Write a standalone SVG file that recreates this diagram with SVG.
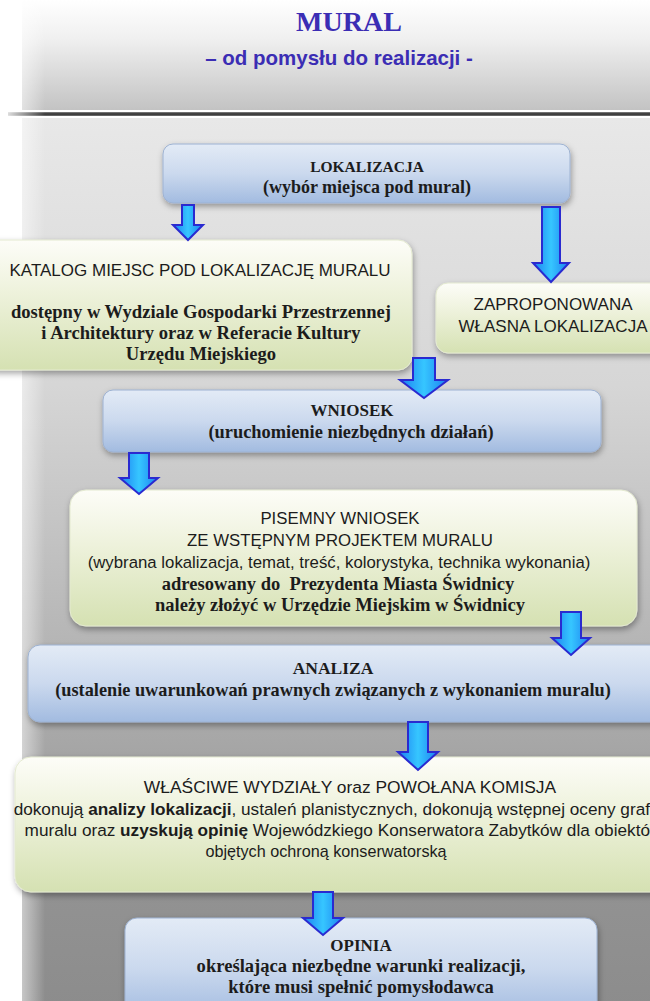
<svg xmlns="http://www.w3.org/2000/svg" width="650" height="1001" viewBox="0 0 650 1001">
<defs>
<linearGradient id="hdr" x1="0" y1="0" x2="0" y2="1">
<stop offset="0" stop-color="#ffffff"/><stop offset="0.35" stop-color="#f0f0f0"/><stop offset="1" stop-color="#c3c3c3"/>
</linearGradient>
<linearGradient id="body" x1="0" y1="0" x2="0" y2="1">
<stop offset="0" stop-color="#e8e8e8"/><stop offset="0.3" stop-color="#d6d6d6"/><stop offset="0.6" stop-color="#b4b4b4"/><stop offset="0.85" stop-color="#939393"/><stop offset="1" stop-color="#8c8c8c"/>
</linearGradient>
<linearGradient id="fadeL" x1="0" y1="0" x2="1" y2="0">
<stop offset="0" stop-color="#ffffff" stop-opacity="1"/><stop offset="1" stop-color="#ffffff" stop-opacity="0"/>
</linearGradient>
<linearGradient id="line" x1="0" y1="0" x2="0" y2="1">
<stop offset="0" stop-color="#888"/><stop offset="0.5" stop-color="#2a2a2a"/><stop offset="1" stop-color="#777"/>
</linearGradient>
<linearGradient id="blue" x1="0" y1="0" x2="0" y2="1">
<stop offset="0" stop-color="#e3ebf6"/><stop offset="0.5" stop-color="#cbd9ee"/><stop offset="1" stop-color="#a2bbe0"/>
</linearGradient>
<linearGradient id="green" x1="0" y1="0" x2="0" y2="1">
<stop offset="0" stop-color="#fdfdf8"/><stop offset="0.4" stop-color="#eef2dc"/><stop offset="1" stop-color="#d5e1b2"/>
</linearGradient>
<linearGradient id="arr" x1="0" y1="0" x2="1" y2="0">
<stop offset="0" stop-color="#1c7ff0"/><stop offset="0.5" stop-color="#36c6ff"/><stop offset="1" stop-color="#1c7ff0"/>
</linearGradient>
<filter id="sh" x="-10%" y="-20%" width="120%" height="150%">
<feDropShadow dx="1" dy="3" stdDeviation="3" flood-color="#000" flood-opacity="0.35"/>
</filter>
<style>
.bb{fill:url(#blue);stroke:#9db2d2;stroke-width:1;filter:url(#sh)}
.gb{fill:url(#green);stroke:#e4ead0;stroke-width:1;filter:url(#sh)}
.t{font-family:"Liberation Serif","DejaVu Serif",serif;font-weight:bold;fill:#1c1c1c;text-anchor:middle}
.r{font-family:"Liberation Sans","DejaVu Sans",sans-serif;fill:#1c1c1c;text-anchor:middle}
.ar{fill:url(#arr);stroke:#2a2ad0;stroke-width:2;stroke-linejoin:miter}
</style>
</defs>

<rect width="650" height="1001" fill="#ffffff"/>
<g id="background">
<rect x="22" y="0" width="640" height="110" fill="url(#hdr)"/>
<rect x="22" y="118" width="640" height="890" fill="url(#body)"/>
<rect x="8" y="112" width="650" height="4" fill="url(#line)"/>
<rect x="0" y="0" width="45" height="1001" fill="url(#fadeL)"/>
</g>

<g id="title">
<text x="349" y="31" font-family="Liberation Serif, serif" font-weight="bold" font-size="28" fill="#3b2db4" text-anchor="middle">MURAL</text>
<text x="339" y="65" font-family="Liberation Sans, sans-serif" font-weight="bold" font-size="20.5" fill="#3b2db4" text-anchor="middle">– od pomysłu do realizacji -</text>
</g>

<g id="lokalizacja">
<rect class="bb" x="163" y="144" width="407" height="59" rx="10"/>
<text class="t" x="367" y="172" font-size="15.5">LOKALIZACJA</text>
<text class="t" x="367" y="193" font-size="18">(wybór miejsca pod mural)</text>
</g>

<g id="katalog">
<rect class="gb" x="-20" y="240" width="432" height="130" rx="14"/>
<text class="r" x="200" y="276" font-size="17">KATALOG MIEJSC POD LOKALIZACJĘ MURALU</text>
<text class="t" x="201" y="318" font-size="18.6">dostępny w Wydziale Gospodarki Przestrzennej</text>
<text class="t" x="201" y="339" font-size="18.6">i Architektury oraz w Referacie Kultury</text>
<text class="t" x="201" y="360" font-size="18.6">Urzędu Miejskiego</text>
</g>

<g id="zaproponowana">
<rect class="gb" x="436" y="283" width="240" height="70" rx="12"/>
<text class="r" x="553" y="310" font-size="17">ZAPROPONOWANA</text>
<text class="r" x="553" y="332" font-size="17">WŁASNA LOKALIZACJA</text>
</g>

<g id="wniosek">
<rect class="bb" x="103" y="390" width="498" height="62" rx="10"/>
<text class="t" x="352" y="416" font-size="17">WNIOSEK</text>
<text class="t" x="351" y="438" font-size="18.4">(uruchomienie niezbędnych działań)</text>
</g>

<g id="pisemny">
<rect class="gb" x="70" y="490" width="567" height="136" rx="16"/>
<text class="r" x="340" y="524" font-size="16.8">PISEMNY WNIOSEK</text>
<text class="r" x="340" y="546" font-size="16.8">ZE WSTĘPNYM PROJEKTEM MURALU</text>
<text class="r" x="339" y="568" font-size="16.8">(wybrana lokalizacja, temat, treść, kolorystyka, technika wykonania)</text>
<text class="t" x="338" y="590" font-size="18.5" style="white-space:pre">adresowany do  Prezydenta Miasta Świdnicy</text>
<text class="t" x="340" y="611" font-size="18.5">należy złożyć w Urzędzie Miejskim w Świdnicy</text>
</g>

<g id="analiza">
<rect class="bb" x="28" y="645" width="640" height="77" rx="12"/>
<text class="t" x="333" y="674" font-size="17.5">ANALIZA</text>
<text class="t" x="333" y="696" font-size="18.3">(ustalenie uwarunkowań prawnych związanych z wykonaniem muralu)</text>
</g>

<g id="wlasciwe">
<rect class="gb" x="15" y="757" width="660" height="135" rx="16"/>
<text class="r" x="350" y="793" font-size="17.4">WŁAŚCIWE WYDZIAŁY oraz POWOŁANA KOMISJA</text>
<text class="r" x="650" y="815" font-size="17.2" style="text-anchor:end">dokonują <tspan font-weight="bold">analizy lokalizacji</tspan>, ustaleń planistycznych, dokonują wstępnej oceny graf</text>
<text class="r" x="650" y="836" font-size="17.2" style="text-anchor:end">muralu oraz <tspan font-weight="bold">uzyskują opinię</tspan> Wojewódzkiego Konserwatora Zabytków dla obiektó</text>
<text class="r" x="326" y="857" font-size="16.2">objętych ochroną konserwatorską</text>
</g>

<g id="opinia">
<rect class="bb" x="125" y="918" width="472" height="100" rx="12"/>
<text class="t" x="361" y="951" font-size="17">OPINIA</text>
<text class="t" x="361" y="972" font-size="18.6">określająca niezbędne warunki realizacji,</text>
<text class="t" x="361" y="993" font-size="18.6">które musi spełnić pomysłodawca</text>
</g>

<g id="connectors">
<path class="ar" d="M182,205 H194 V225 H203 L188,240 L173,225 H182 Z"/>
<path class="ar" d="M542,207 H560 V263 H569 L551,282 L533,263 H542 Z"/>
<path class="ar" d="M413,358 H435 V380 H448 L424,398 L400,380 H413 Z"/>
<path class="ar" d="M129,453 H149 V478 H158 L139,494 L120,478 H129 Z"/>
<path class="ar" d="M561,612 H581 V638 H590 L571,655 L552,638 H561 Z"/>
<path class="ar" d="M408,722 H428 V752 H438 L418,770 L398,752 H408 Z"/>
<path class="ar" d="M313,892 H333 V918 H343 L323,935 L303,918 H313 Z"/>
</g>
</svg>
